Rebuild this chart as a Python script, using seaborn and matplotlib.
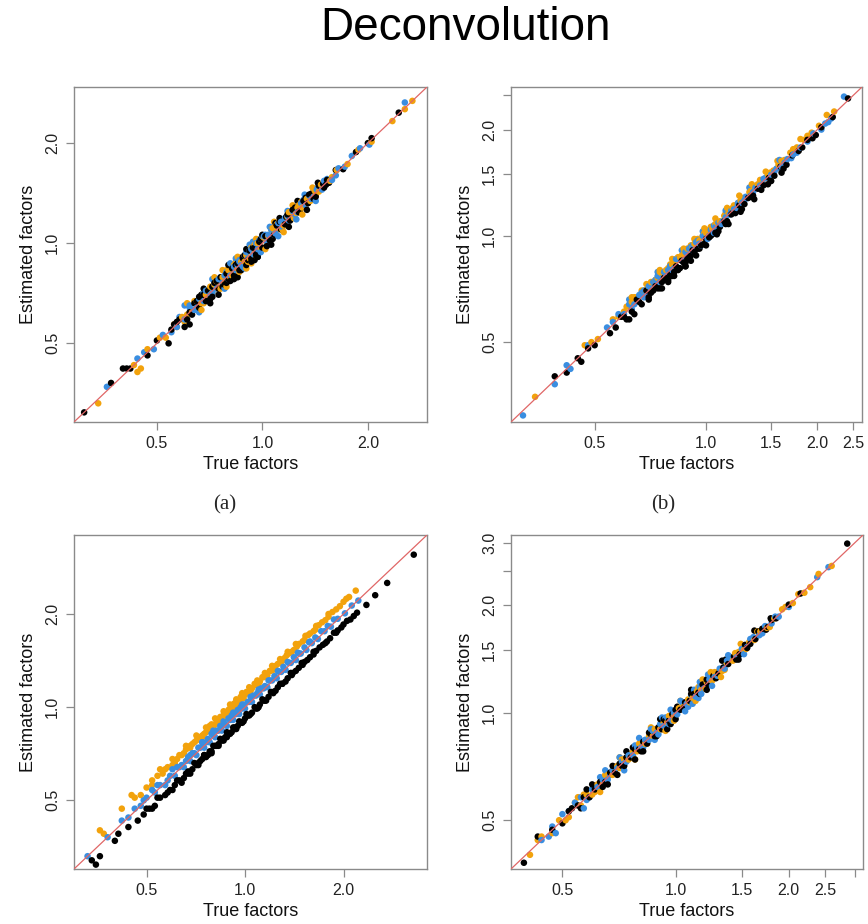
import matplotlib
matplotlib.use("Agg")
import matplotlib.pyplot as plt
from matplotlib.ticker import FixedLocator, FixedFormatter, NullLocator
import seaborn as sns
import pandas as pd

# ---------------- data ----------------
methods = ["orange", "blue", "black"]
colors = {"orange": "#F2A20C", "blue": "#3A8EE0", "black": "#000000"}

# Panel (a)
a_black_x = [0.31, 0.37, 0.40, 0.41, 0.42, 0.47, 0.50, 0.54, 0.56, 0.57, 0.60, 0.62, 0.63, 0.65, 0.66, 0.68, 0.69, 0.70, 0.72, 0.73, 0.75, 0.76, 0.78, 0.79, 0.80, 0.82, 0.83, 0.85, 0.86, 0.88, 0.90, 0.92, 0.93, 0.95, 0.96, 0.98, 1.00, 1.02, 1.05, 1.08, 1.10, 1.13, 1.17, 1.20, 1.24, 1.28, 1.31, 1.35, 1.38, 1.42, 1.46, 1.50, 1.55, 1.62, 1.70, 1.85, 2.00, 2.05, 2.45]
a_black_y = [0.31, 0.38, 0.42, 0.42, 0.42, 0.46, 0.51, 0.50, 0.57, 0.58, 0.56, 0.62, 0.61, 0.67, 0.64, 0.70, 0.67, 0.72, 0.69, 0.76, 0.73, 0.79, 0.75, 0.81, 0.78, 0.84, 0.80, 0.87, 0.83, 0.90, 0.86, 0.95, 0.90, 0.97, 0.93, 1.01, 0.97, 1.05, 1.02, 1.06, 1.13, 1.10, 1.20, 1.17, 1.28, 1.25, 1.34, 1.32, 1.41, 1.38, 1.50, 1.47, 1.52, 1.66, 1.67, 1.88, 2.00, 2.07, 2.47]
a_black_x2 = [0.58, 0.61, 0.64, 0.67, 0.71, 0.74, 0.77, 0.81, 0.84, 0.87, 0.89, 0.91, 0.94, 0.97, 0.99, 1.03, 1.07, 1.12, 1.16, 1.22, 1.27, 1.33, 1.40, 1.45, 1.52, 0.93, 0.96, 0.88, 0.79, 0.72, 0.66, 0.55, 1.49, 1.53, 1.36, 1.18]
a_black_y2 = [0.59, 0.59, 0.66, 0.70, 0.68, 0.77, 0.74, 0.77, 0.86, 0.83, 0.92, 0.89, 0.97, 0.91, 1.03, 0.98, 1.03, 1.16, 1.14, 1.26, 1.24, 1.37, 1.36, 1.49, 1.50, 0.88, 0.92, 0.91, 0.76, 0.74, 0.69, 0.55, 1.51, 1.55, 1.40, 1.22]
a_black_x3 = [0.62, 0.68, 0.75, 0.80, 0.85, 0.90, 0.95, 1.00, 1.06, 1.12, 1.19, 1.26, 1.34, 1.44, 0.71, 0.83, 0.97, 1.09]
a_black_y3 = [0.57, 0.73, 0.70, 0.86, 0.79, 0.96, 0.89, 1.06, 0.99, 1.19, 1.12, 1.34, 1.26, 1.52, 0.66, 0.78, 0.91, 1.15]
a_blue_x = [0.36, 0.44, 0.46, 0.49, 0.52, 0.55, 0.58, 0.60, 0.62, 0.64, 0.66, 0.68, 0.70, 0.71, 0.73, 0.74, 0.76, 0.77, 0.79, 0.81, 0.82, 0.84, 0.86, 0.87, 0.89, 0.91, 0.93, 0.94, 0.96, 0.97, 0.99, 1.01, 1.03, 1.06, 1.08, 1.11, 1.14, 1.16, 1.19, 1.22, 1.26, 1.29, 1.33, 1.36, 1.40, 1.44, 1.48, 1.53, 1.58, 1.65, 1.72, 1.80, 1.90, 2.02, 2.55]
a_blue_y = [0.37, 0.45, 0.47, 0.48, 0.53, 0.54, 0.60, 0.59, 0.64, 0.63, 0.68, 0.67, 0.72, 0.70, 0.76, 0.73, 0.79, 0.76, 0.82, 0.80, 0.85, 0.83, 0.89, 0.86, 0.92, 0.90, 0.96, 0.93, 1.00, 0.96, 1.03, 1.05, 1.01, 1.10, 1.06, 1.15, 1.12, 1.19, 1.17, 1.25, 1.24, 1.32, 1.30, 1.39, 1.38, 1.47, 1.45, 1.56, 1.55, 1.68, 1.70, 1.83, 1.93, 1.98, 2.65]
a_blue_x2 = [0.57, 0.62, 0.65, 0.69, 0.72, 0.75, 0.78, 0.80, 0.83, 0.85, 0.88, 0.90, 0.92, 0.95, 0.98, 1.00, 1.04, 1.09, 1.13, 1.18, 1.24, 1.31, 1.38, 1.43, 1.50, 1.62, 0.96, 0.86, 0.76, 0.68, 1.02, 0.94]
a_blue_y2 = [0.56, 0.65, 0.64, 0.72, 0.71, 0.78, 0.80, 0.78, 0.85, 0.86, 0.85, 0.94, 0.95, 0.92, 1.02, 1.05, 1.06, 1.07, 1.16, 1.21, 1.22, 1.35, 1.36, 1.45, 1.54, 1.60, 1.00, 0.88, 0.78, 0.71, 1.06, 0.97]
a_blue_x3 = [0.60, 0.66, 0.72, 0.78, 0.84, 0.89, 0.94, 0.99, 1.05, 1.11, 1.18, 1.25, 1.32, 1.42, 0.81, 0.92]
a_blue_y3 = [0.65, 0.62, 0.78, 0.73, 0.90, 0.84, 1.01, 0.94, 1.12, 1.05, 1.25, 1.18, 1.40, 1.34, 0.87, 0.99]
a_orange_x = [0.34, 0.43, 0.44, 0.45, 0.47, 0.51, 0.53, 0.57, 0.59, 0.61, 0.63, 0.65, 0.67, 0.69, 0.70, 0.72, 0.74, 0.75, 0.77, 0.78, 0.80, 0.81, 0.83, 0.85, 0.87, 0.89, 0.90, 0.92, 0.94, 0.95, 0.97, 0.99, 1.01, 1.04, 1.07, 1.09, 1.12, 1.15, 1.18, 1.21, 1.25, 1.27, 1.30, 1.34, 1.37, 1.41, 1.45, 1.49, 1.56, 1.63, 1.75, 1.88, 2.05, 2.35, 2.55, 2.68]
a_orange_y = [0.33, 0.43, 0.41, 0.42, 0.48, 0.52, 0.52, 0.56, 0.60, 0.61, 0.62, 0.67, 0.66, 0.70, 0.72, 0.71, 0.77, 0.73, 0.79, 0.76, 0.83, 0.79, 0.86, 0.84, 0.88, 0.88, 0.92, 0.90, 0.97, 0.93, 1.00, 0.96, 1.04, 1.05, 1.11, 1.08, 1.17, 1.13, 1.20, 1.24, 1.23, 1.30, 1.28, 1.36, 1.34, 1.44, 1.43, 1.52, 1.54, 1.66, 1.73, 1.91, 2.02, 2.33, 2.53, 2.68]
a_orange_x2 = [0.56, 0.60, 0.64, 0.68, 0.71, 0.73, 0.76, 0.79, 0.82, 0.84, 0.86, 0.88, 0.91, 0.93, 0.96, 0.98, 1.03, 1.06, 1.10, 1.14, 1.19, 1.23, 1.29, 1.35, 1.42, 1.47, 1.58, 0.95, 0.89, 0.74, 1.26]
a_orange_y2 = [0.57, 0.58, 0.67, 0.66, 0.74, 0.75, 0.73, 0.83, 0.80, 0.88, 0.82, 0.91, 0.88, 0.97, 0.92, 1.01, 1.00, 1.10, 1.14, 1.10, 1.24, 1.19, 1.33, 1.32, 1.40, 1.50, 1.58, 0.99, 0.92, 0.77, 1.28]
a_orange_x3 = [0.61, 0.67, 0.73, 0.79, 0.85, 0.90, 0.96, 1.02, 1.08, 1.15, 1.22, 1.30, 1.39, 0.77, 0.93]
a_orange_y3 = [0.66, 0.63, 0.79, 0.74, 0.91, 0.84, 1.03, 0.96, 1.16, 1.08, 1.30, 1.22, 1.47, 0.83, 0.87]

# Panel (b)
b_blue_x = [0.32, 0.39, 0.42, 0.43, 0.48, 0.54, 0.56, 0.60, 0.62, 0.64, 0.66, 0.68, 0.70, 0.71, 0.73, 0.75, 0.77, 0.78, 0.80, 0.82, 0.84, 0.86, 0.88, 0.89, 0.91, 0.93, 0.95, 0.97, 0.99, 1.01, 1.03, 1.05, 1.08, 1.10, 1.13, 1.16, 1.19, 1.22, 1.25, 1.28, 1.32, 1.36, 1.40, 1.45, 1.50, 1.55, 1.60, 1.66, 1.72, 1.80, 1.88, 1.95, 2.10, 2.18, 2.36]
b_blue_y = [0.31, 0.38, 0.43, 0.42, 0.49, 0.55, 0.57, 0.60, 0.64, 0.64, 0.68, 0.67, 0.72, 0.70, 0.75, 0.74, 0.79, 0.77, 0.82, 0.81, 0.86, 0.85, 0.90, 0.87, 0.93, 0.91, 0.97, 0.94, 1.00, 0.98, 1.04, 1.02, 1.09, 1.08, 1.13, 1.15, 1.19, 1.23, 1.24, 1.29, 1.30, 1.37, 1.39, 1.46, 1.49, 1.55, 1.57, 1.65, 1.70, 1.78, 1.85, 1.95, 2.08, 2.15, 2.48]
b_blue_x2 = [0.58, 0.63, 0.67, 0.69, 0.72, 0.76, 0.79, 0.81, 0.83, 0.87, 0.90, 0.92, 0.96, 0.98, 1.02, 1.06, 1.11, 1.17, 1.21, 1.27, 1.34, 1.42, 1.53, 1.63, 1.76, 2.05, 2.14, 0.74, 0.94]
b_blue_y2 = [0.60, 0.62, 0.69, 0.68, 0.74, 0.76, 0.80, 0.80, 0.86, 0.85, 0.92, 0.91, 0.95, 1.00, 1.00, 1.06, 1.10, 1.18, 1.20, 1.26, 1.33, 1.40, 1.52, 1.61, 1.72, 2.00, 2.10, 0.77, 0.96]
b_blue_x3 = [0.62, 0.68, 0.74, 0.80, 0.86, 0.92, 0.98, 1.05, 1.13, 1.22, 1.31, 1.43, 1.58, 1.70]
b_blue_y3 = [0.66, 0.70, 0.79, 0.82, 0.91, 0.94, 1.03, 1.07, 1.18, 1.24, 1.37, 1.45, 1.64, 1.66]
b_orange_x = [0.345, 0.47, 0.49, 0.51, 0.56, 0.58, 0.61, 0.63, 0.65, 0.67, 0.69, 0.70, 0.72, 0.74, 0.76, 0.77, 0.79, 0.81, 0.83, 0.85, 0.87, 0.88, 0.90, 0.92, 0.94, 0.96, 0.98, 1.00, 1.02, 1.04, 1.07, 1.09, 1.12, 1.15, 1.18, 1.21, 1.24, 1.27, 1.31, 1.34, 1.38, 1.42, 1.47, 1.52, 1.57, 1.63, 1.69, 1.76, 1.84, 1.93, 2.02, 2.12]
b_orange_y = [0.35, 0.49, 0.50, 0.51, 0.58, 0.59, 0.63, 0.65, 0.67, 0.70, 0.70, 0.72, 0.74, 0.76, 0.78, 0.78, 0.81, 0.83, 0.85, 0.87, 0.89, 0.89, 0.92, 0.93, 0.96, 0.97, 1.00, 1.02, 1.04, 1.05, 1.09, 1.10, 1.14, 1.16, 1.20, 1.22, 1.26, 1.28, 1.33, 1.35, 1.40, 1.43, 1.49, 1.53, 1.59, 1.64, 1.72, 1.78, 1.87, 1.96, 2.05, 2.20]
b_orange_x2 = [0.60, 0.64, 0.68, 0.71, 0.73, 0.75, 0.78, 0.80, 0.82, 0.84, 0.86, 0.89, 0.91, 0.93, 0.95, 0.99, 1.03, 1.06, 1.13, 1.19, 1.25, 1.32, 1.40, 1.49, 1.60, 1.72, 1.88, 2.22]
b_orange_y2 = [0.61, 0.67, 0.70, 0.74, 0.75, 0.79, 0.80, 0.83, 0.84, 0.87, 0.88, 0.92, 0.94, 0.95, 0.98, 1.02, 1.06, 1.08, 1.16, 1.22, 1.28, 1.34, 1.44, 1.51, 1.63, 1.76, 1.92, 2.25]
b_orange_x3 = [0.63, 0.69, 0.75, 0.81, 0.87, 0.93, 0.99, 1.06, 1.14, 1.23, 1.33, 1.45, 1.56, 1.80]
b_orange_y3 = [0.67, 0.73, 0.80, 0.86, 0.92, 0.98, 1.05, 1.12, 1.20, 1.30, 1.40, 1.52, 1.63, 1.88]
b_black_x = [0.39, 0.42, 0.45, 0.46, 0.48, 0.50, 0.55, 0.57, 0.59, 0.61, 0.63, 0.65, 0.67, 0.69, 0.71, 0.73, 0.74, 0.76, 0.78, 0.80, 0.81, 0.83, 0.85, 0.87, 0.89, 0.91, 0.93, 0.95, 0.97, 1.00, 1.02, 1.04, 1.06, 1.09, 1.12, 1.14, 1.17, 1.20, 1.23, 1.27, 1.30, 1.34, 1.38, 1.43, 1.48, 1.53, 1.59, 1.65, 1.71, 1.78, 1.88, 1.98, 2.05, 2.20, 2.42]
b_black_y = [0.40, 0.41, 0.45, 0.44, 0.48, 0.49, 0.53, 0.55, 0.59, 0.58, 0.61, 0.66, 0.64, 0.70, 0.69, 0.72, 0.71, 0.74, 0.76, 0.78, 0.77, 0.82, 0.81, 0.84, 0.86, 0.88, 0.90, 0.92, 0.94, 0.98, 0.99, 1.01, 1.02, 1.06, 1.10, 1.10, 1.15, 1.16, 1.22, 1.23, 1.28, 1.30, 1.36, 1.39, 1.46, 1.48, 1.57, 1.59, 1.69, 1.74, 1.87, 1.93, 2.03, 2.17, 2.45]
b_black_x2 = [0.60, 0.62, 0.66, 0.70, 0.72, 0.75, 0.77, 0.79, 0.82, 0.84, 0.86, 0.88, 0.90, 0.92, 0.96, 0.99, 1.03, 1.08, 1.13, 1.18, 1.25, 1.32, 1.41, 1.50, 1.62, 1.82, 1.94, 0.88]
b_black_y2 = [0.59, 0.58, 0.65, 0.67, 0.70, 0.71, 0.76, 0.75, 0.79, 0.80, 0.85, 0.84, 0.87, 0.91, 0.92, 0.95, 1.00, 1.03, 1.08, 1.16, 1.19, 1.29, 1.35, 1.43, 1.55, 1.78, 1.89, 0.82]
b_black_x3 = [0.64, 0.70, 0.76, 0.82, 0.88, 0.94, 1.00, 1.07, 1.15, 1.24, 1.35, 1.47, 1.60, 0.79, 0.91]
b_black_y3 = [0.60, 0.66, 0.71, 0.77, 0.82, 0.88, 0.94, 1.01, 1.08, 1.17, 1.27, 1.40, 1.51, 0.74, 0.85]

# Panel (c)
c_orange_x = [0.36, 0.37, 0.42, 0.46, 0.48, 0.50, 0.52, 0.54, 0.56, 0.58, 0.60, 0.62, 0.64, 0.65, 0.67, 0.68, 0.70, 0.71, 0.73, 0.74, 0.76, 0.77, 0.79, 0.80, 0.82, 0.83, 0.85, 0.86, 0.88, 0.90, 0.92, 0.94, 0.96, 0.98, 1.00, 1.02, 1.05, 1.08, 1.11, 1.14, 1.17, 1.20, 1.24, 1.28, 1.32, 1.36, 1.41, 1.46, 1.52, 1.58, 1.64, 1.72, 1.80, 1.90, 2.00, 2.08, 2.18]
c_orange_y = [0.40, 0.39, 0.47, 0.51, 0.52, 0.55, 0.56, 0.60, 0.61, 0.64, 0.65, 0.68, 0.70, 0.71, 0.74, 0.74, 0.77, 0.78, 0.80, 0.80, 0.83, 0.84, 0.87, 0.87, 0.90, 0.90, 0.93, 0.94, 0.96, 0.99, 1.00, 1.03, 1.05, 1.07, 1.10, 1.11, 1.15, 1.18, 1.21, 1.25, 1.27, 1.31, 1.36, 1.39, 1.44, 1.49, 1.53, 1.60, 1.65, 1.73, 1.78, 1.88, 1.96, 2.07, 2.19, 2.27, 2.38]
c_orange_x2 = [0.52, 0.57, 0.61, 0.63, 0.66, 0.69, 0.72, 0.75, 0.78, 0.81, 0.84, 0.87, 0.89, 0.91, 0.93, 0.95, 0.97, 0.99, 1.01, 1.04, 1.07, 1.10, 1.13, 1.16, 1.19, 1.22, 1.26, 1.30, 1.34, 1.39, 1.44, 1.50, 1.56, 1.62, 1.68, 1.76, 1.85, 1.95, 2.04, 0.68, 0.79, 0.92]
c_orange_y2 = [0.58, 0.63, 0.66, 0.70, 0.73, 0.76, 0.80, 0.82, 0.87, 0.88, 0.93, 0.94, 0.98, 0.98, 1.03, 1.02, 1.08, 1.07, 1.12, 1.13, 1.19, 1.19, 1.25, 1.26, 1.31, 1.32, 1.38, 1.41, 1.47, 1.51, 1.57, 1.63, 1.71, 1.76, 1.84, 1.91, 2.03, 2.12, 2.24, 0.75, 0.88, 1.02]
c_orange_x3 = [0.45, 0.55, 0.60, 0.66, 0.71, 0.76, 0.81, 0.86, 0.90, 0.94, 0.98, 1.03, 1.09, 1.15, 1.21, 1.28, 1.35, 1.43, 1.53, 1.65, 1.80, 0.74, 0.84]
c_orange_y3 = [0.52, 0.63, 0.68, 0.75, 0.81, 0.86, 0.92, 0.97, 1.02, 1.06, 1.11, 1.16, 1.22, 1.29, 1.36, 1.43, 1.51, 1.60, 1.70, 1.83, 2.00, 0.81, 0.91]
c_blue_x = [0.33, 0.38, 0.42, 0.44, 0.46, 0.48, 0.50, 0.53, 0.55, 0.57, 0.59, 0.61, 0.63, 0.65, 0.66, 0.68, 0.70, 0.71, 0.73, 0.75, 0.76, 0.78, 0.80, 0.81, 0.83, 0.85, 0.87, 0.88, 0.90, 0.92, 0.94, 0.96, 0.98, 1.00, 1.03, 1.05, 1.08, 1.11, 1.14, 1.17, 1.21, 1.25, 1.29, 1.33, 1.38, 1.43, 1.48, 1.54, 1.60, 1.67, 1.75, 1.83, 1.92, 2.02, 2.12, 2.22]
c_blue_y = [0.33, 0.38, 0.43, 0.44, 0.47, 0.48, 0.51, 0.53, 0.56, 0.56, 0.60, 0.60, 0.64, 0.64, 0.67, 0.67, 0.71, 0.70, 0.74, 0.74, 0.77, 0.77, 0.81, 0.80, 0.84, 0.84, 0.88, 0.87, 0.91, 0.91, 0.95, 0.95, 0.99, 0.99, 1.04, 1.04, 1.09, 1.10, 1.15, 1.16, 1.22, 1.24, 1.30, 1.32, 1.39, 1.42, 1.49, 1.53, 1.61, 1.66, 1.76, 1.82, 1.93, 2.01, 2.13, 2.21]
c_blue_x2 = [0.49, 0.54, 0.58, 0.62, 0.64, 0.67, 0.69, 0.72, 0.74, 0.77, 0.79, 0.82, 0.84, 0.86, 0.89, 0.91, 0.93, 0.95, 0.97, 0.99, 1.02, 1.06, 1.09, 1.12, 1.15, 1.19, 1.23, 1.27, 1.31, 1.36, 1.41, 1.46, 1.52, 1.58, 1.64, 1.71, 1.79, 1.87]
c_blue_y2 = [0.50, 0.56, 0.58, 0.64, 0.65, 0.69, 0.71, 0.74, 0.77, 0.79, 0.82, 0.84, 0.87, 0.88, 0.92, 0.94, 0.95, 0.98, 1.00, 1.02, 1.04, 1.09, 1.11, 1.15, 1.17, 1.22, 1.26, 1.30, 1.35, 1.39, 1.45, 1.49, 1.56, 1.63, 1.68, 1.76, 1.83, 1.92]
c_blue_x3 = [0.52, 0.60, 0.68, 0.74, 0.80, 0.86, 0.92, 0.98, 1.04, 1.10, 1.18, 1.26, 1.35, 1.45, 1.57, 0.77, 0.90]
c_blue_y3 = [0.54, 0.63, 0.70, 0.77, 0.84, 0.90, 0.96, 1.02, 1.08, 1.14, 1.22, 1.31, 1.40, 1.50, 1.62, 0.78, 0.91]
c_black_x = [0.34, 0.35, 0.36, 0.40, 0.41, 0.44, 0.47, 0.49, 0.51, 0.53, 0.55, 0.57, 0.59, 0.61, 0.63, 0.65, 0.67, 0.69, 0.71, 0.72, 0.74, 0.76, 0.78, 0.79, 0.81, 0.83, 0.85, 0.87, 0.89, 0.91, 0.93, 0.95, 0.97, 1.00, 1.02, 1.05, 1.08, 1.11, 1.14, 1.18, 1.22, 1.26, 1.30, 1.35, 1.40, 1.46, 1.52, 1.58, 1.65, 1.73, 1.82, 1.92, 2.00, 2.10, 2.20, 2.35, 2.50, 2.72, 3.28]
c_black_y = [0.32, 0.31, 0.33, 0.37, 0.39, 0.41, 0.43, 0.45, 0.47, 0.48, 0.51, 0.52, 0.54, 0.56, 0.58, 0.59, 0.62, 0.63, 0.65, 0.66, 0.68, 0.69, 0.72, 0.72, 0.75, 0.76, 0.78, 0.80, 0.82, 0.83, 0.86, 0.87, 0.89, 0.92, 0.94, 0.96, 0.99, 1.02, 1.05, 1.08, 1.12, 1.16, 1.19, 1.24, 1.29, 1.34, 1.40, 1.45, 1.52, 1.59, 1.67, 1.77, 1.85, 1.92, 2.02, 2.14, 2.30, 2.52, 3.11]
c_black_x2 = [0.50, 0.54, 0.58, 0.62, 0.66, 0.68, 0.70, 0.73, 0.75, 0.77, 0.80, 0.82, 0.84, 0.86, 0.88, 0.90, 0.92, 0.94, 0.96, 0.99, 1.01, 1.04, 1.07, 1.10, 1.13, 1.16, 1.20, 1.24, 1.28, 1.33, 1.38, 1.43, 1.49, 1.55, 1.62, 1.69, 1.78, 1.87, 1.97, 2.05, 2.15, 0.64, 0.79]
c_black_y2 = [0.47, 0.51, 0.53, 0.58, 0.61, 0.61, 0.66, 0.67, 0.70, 0.70, 0.75, 0.75, 0.79, 0.78, 0.83, 0.82, 0.86, 0.85, 0.90, 0.90, 0.95, 0.95, 1.00, 1.00, 1.06, 1.05, 1.12, 1.13, 1.19, 1.21, 1.29, 1.31, 1.39, 1.42, 1.51, 1.56, 1.63, 1.74, 1.81, 1.90, 1.97, 0.57, 0.71]
c_black_x3 = [0.52, 0.60, 0.67, 0.72, 0.78, 0.83, 0.88, 0.93, 0.98, 1.03, 1.09, 1.15, 1.22, 1.30, 1.39, 1.50, 1.62, 1.76, 1.90, 0.75, 0.86]
c_black_y3 = [0.47, 0.54, 0.61, 0.65, 0.71, 0.75, 0.80, 0.85, 0.89, 0.94, 0.99, 1.05, 1.11, 1.19, 1.27, 1.37, 1.48, 1.61, 1.74, 0.70, 0.79]

# Panel (d)
d_black_x = [0.395, 0.43, 0.47, 0.50, 0.53, 0.55, 0.57, 0.59, 0.61, 0.63, 0.65, 0.67, 0.69, 0.71, 0.72, 0.74, 0.76, 0.78, 0.80, 0.82, 0.84, 0.86, 0.88, 0.90, 0.92, 0.94, 0.96, 0.98, 1.00, 1.03, 1.06, 1.09, 1.12, 1.15, 1.18, 1.22, 1.26, 1.30, 1.34, 1.38, 1.43, 1.48, 1.53, 1.58, 1.63, 1.70, 1.76, 1.80, 1.85, 2.00, 2.15, 2.86]
d_black_y = [0.38, 0.45, 0.47, 0.49, 0.54, 0.55, 0.58, 0.58, 0.61, 0.64, 0.64, 0.68, 0.68, 0.72, 0.71, 0.75, 0.75, 0.79, 0.79, 0.83, 0.82, 0.87, 0.86, 0.91, 0.90, 0.95, 0.95, 0.99, 1.02, 1.02, 1.07, 1.08, 1.13, 1.14, 1.20, 1.20, 1.27, 1.29, 1.34, 1.37, 1.44, 1.46, 1.55, 1.56, 1.61, 1.72, 1.74, 1.82, 1.84, 2.01, 2.16, 2.98]
d_black_x2 = [0.56, 0.60, 0.64, 0.68, 0.73, 0.77, 0.81, 0.85, 0.89, 0.93, 0.97, 1.01, 1.05, 1.10, 1.16, 1.21, 1.28, 1.36, 1.45, 1.55, 1.66, 1.74, 1.79, 0.70, 0.52]
d_black_y2 = [0.54, 0.63, 0.62, 0.71, 0.71, 0.80, 0.78, 0.88, 0.86, 0.96, 0.93, 1.04, 1.03, 1.13, 1.13, 1.24, 1.25, 1.41, 1.41, 1.52, 1.69, 1.71, 1.84, 0.67, 0.53]
d_black_x3 = [0.58, 0.66, 0.74, 0.82, 0.91, 1.00, 1.10, 1.21, 1.33, 1.47, 1.62, 0.78, 0.95]
d_black_y3 = [0.61, 0.63, 0.78, 0.78, 0.96, 0.96, 1.16, 1.16, 1.40, 1.41, 1.70, 0.74, 0.90]
d_blue_x = [0.44, 0.46, 0.48, 0.50, 0.52, 0.56, 0.58, 0.60, 0.62, 0.64, 0.66, 0.68, 0.70, 0.72, 0.73, 0.75, 0.77, 0.79, 0.81, 0.83, 0.85, 0.87, 0.89, 0.91, 0.93, 0.95, 0.97, 0.99, 1.01, 1.04, 1.07, 1.10, 1.13, 1.16, 1.19, 1.23, 1.27, 1.31, 1.35, 1.40, 1.45, 1.50, 1.55, 1.61, 1.67, 1.73, 1.80, 1.88, 2.00, 2.38, 2.55]
d_blue_y = [0.44, 0.45, 0.46, 0.52, 0.53, 0.58, 0.57, 0.61, 0.62, 0.65, 0.65, 0.69, 0.70, 0.73, 0.72, 0.76, 0.76, 0.80, 0.80, 0.84, 0.84, 0.89, 0.88, 0.93, 0.92, 0.97, 0.95, 1.00, 0.99, 1.07, 1.06, 1.12, 1.11, 1.18, 1.17, 1.24, 1.26, 1.33, 1.33, 1.42, 1.43, 1.51, 1.53, 1.63, 1.65, 1.75, 1.78, 1.86, 1.98, 2.40, 2.56]
d_blue_x2 = [0.47, 0.54, 0.59, 0.63, 0.67, 0.71, 0.74, 0.78, 0.82, 0.86, 0.90, 0.94, 0.98, 1.03, 1.08, 1.12, 1.17, 1.22, 1.29, 1.37, 1.47, 1.58, 1.70, 1.84, 0.96, 1.15]
d_blue_y2 = [0.48, 0.56, 0.58, 0.66, 0.67, 0.75, 0.73, 0.81, 0.80, 0.90, 0.87, 0.97, 0.95, 1.08, 1.04, 1.16, 1.13, 1.28, 1.27, 1.40, 1.44, 1.61, 1.67, 1.86, 0.93, 1.10]
d_blue_x3 = [0.57, 0.65, 0.73, 0.80, 0.88, 0.97, 1.06, 1.16, 1.25, 1.38, 1.52, 0.92, 1.11]
d_blue_y3 = [0.54, 0.69, 0.69, 0.85, 0.84, 1.02, 1.01, 1.22, 1.19, 1.45, 1.46, 0.97, 1.06]
d_orange_x = [0.41, 0.44, 0.47, 0.49, 0.51, 0.54, 0.56, 0.58, 0.60, 0.62, 0.64, 0.66, 0.68, 0.70, 0.71, 0.73, 0.75, 0.77, 0.79, 0.81, 0.83, 0.85, 0.87, 0.89, 0.91, 0.93, 0.95, 0.97, 0.99, 1.02, 1.05, 1.08, 1.11, 1.14, 1.17, 1.21, 1.25, 1.29, 1.33, 1.37, 1.42, 1.47, 1.52, 1.57, 1.62, 1.68, 1.75, 1.83, 1.92, 2.05, 2.12, 2.20, 2.40, 2.60]
d_orange_y = [0.40, 0.45, 0.46, 0.50, 0.50, 0.56, 0.55, 0.59, 0.59, 0.63, 0.63, 0.67, 0.67, 0.71, 0.70, 0.74, 0.74, 0.78, 0.78, 0.82, 0.82, 0.86, 0.86, 0.90, 0.90, 0.94, 0.94, 0.98, 0.98, 1.03, 1.04, 1.09, 1.10, 1.15, 1.16, 1.22, 1.23, 1.30, 1.31, 1.38, 1.40, 1.48, 1.50, 1.58, 1.60, 1.69, 1.73, 1.84, 1.95, 2.03, 2.15, 2.17, 2.45, 2.58]
d_orange_x2 = [0.43, 0.52, 0.57, 0.61, 0.65, 0.69, 0.72, 0.76, 0.80, 0.84, 0.88, 0.92, 0.96, 1.00, 1.04, 1.09, 1.15, 1.20, 1.27, 1.35, 1.44, 1.54, 1.65, 1.78, 1.96, 2.28]
d_orange_y2 = [0.44, 0.51, 0.59, 0.60, 0.67, 0.68, 0.74, 0.75, 0.82, 0.82, 0.90, 0.90, 0.98, 0.98, 1.06, 1.07, 1.18, 1.17, 1.30, 1.32, 1.47, 1.51, 1.69, 1.74, 1.98, 2.25]
d_orange_x3 = [0.55, 0.63, 0.71, 0.78, 0.86, 0.94, 1.03, 1.13, 1.24, 1.32, 1.49, 0.99, 1.18]
d_orange_y3 = [0.58, 0.60, 0.75, 0.74, 0.91, 0.89, 1.08, 1.08, 1.30, 1.26, 1.56, 0.95, 1.24]

# Axis ranges and ticks per panel
lims = {"a": (0.29, 2.95), "b": (0.297, 2.64), "c": (0.30, 3.6), "d": (0.365, 3.15)}
xticks = {"a": [0.5, 1.0, 2.0], "b": [0.5, 1.0, 1.5, 2.0, 2.5],
          "c": [0.5, 1.0, 2.0], "d": [0.5, 1.0, 1.5, 2.0, 2.5, 3.0]}
xticklabels = {"a": ["0.5", "1.0", "2.0"], "b": ["0.5", "1.0", "1.5", "2.0", "2.5"],
               "c": ["0.5", "1.0", "2.0"], "d": ["0.5", "1.0", "1.5", "2.0", "2.5", ""]}
yticks = {"a": [0.5, 1.0, 2.0], "b": [0.5, 1.0, 1.5, 2.0, 2.5],
          "c": [0.5, 1.0, 2.0], "d": [0.5, 1.0, 1.5, 2.0, 2.5, 3.0]}
yticklabels = {"a": ["0.5", "1.0", "2.0"], "b": ["0.5", "1.0", "1.5", "2.0", ""],
               "c": ["0.5", "1.0", "2.0"], "d": ["0.5", "1.0", "1.5", "2.0", "", "3.0"]}

series = {
    "a": {"orange": [(a_orange_x, a_orange_y), (a_orange_x2, a_orange_y2), (a_orange_x3, a_orange_y3)],
          "blue": [(a_blue_x, a_blue_y), (a_blue_x2, a_blue_y2), (a_blue_x3, a_blue_y3)],
          "black": [(a_black_x, a_black_y), (a_black_x2, a_black_y2), (a_black_x3, a_black_y3)]},
    "b": {"orange": [(b_orange_x, b_orange_y), (b_orange_x2, b_orange_y2), (b_orange_x3, b_orange_y3)],
          "blue": [(b_blue_x, b_blue_y), (b_blue_x2, b_blue_y2), (b_blue_x3, b_blue_y3)],
          "black": [(b_black_x, b_black_y), (b_black_x2, b_black_y2), (b_black_x3, b_black_y3)]},
    "c": {"orange": [(c_orange_x, c_orange_y), (c_orange_x2, c_orange_y2), (c_orange_x3, c_orange_y3)],
          "blue": [(c_blue_x, c_blue_y), (c_blue_x2, c_blue_y2), (c_blue_x3, c_blue_y3)],
          "black": [(c_black_x, c_black_y), (c_black_x2, c_black_y2), (c_black_x3, c_black_y3)]},
    "d": {"orange": [(d_orange_x, d_orange_y), (d_orange_x2, d_orange_y2), (d_orange_x3, d_orange_y3)],
          "blue": [(d_blue_x, d_blue_y), (d_blue_x2, d_blue_y2), (d_blue_x3, d_blue_y3)],
          "black": [(d_black_x, d_black_y), (d_black_x2, d_black_y2), (d_black_x3, d_black_y3)]},
}

# ---------------- drawing ----------------
sns.set_theme(style="white")
plt.rcParams["font.family"] = ["Liberation Sans", "DejaVu Sans"]

W, H = 868, 924
fig = plt.figure(figsize=(W / 100, H / 100), dpi=100)

boxes = {  # left, top, right, bottom in pixels
    "a": (74, 87, 427, 422),
    "b": (511, 87, 862, 422),
    "c": (74, 535, 427, 869),
    "d": (511, 535, 863, 869),
}
axcol = "#8a8a8a"

for key, (l, t, r, b) in boxes.items():
    ax = fig.add_axes([l / W, 1 - b / H, (r - l) / W, (b - t) / H])
    rows = []
    for m in methods:
        for xs, ys in series[key][m]:
            for xv, yv in zip(xs, ys):
                rows.append({"true": xv, "est": yv, "method": m})
    # draw in order of true factor so the three colours interleave
    df = pd.DataFrame(rows).sort_values("true", kind="stable").reset_index(drop=True)
    ax.set_xscale("log")
    ax.set_yscale("log")
    sns.scatterplot(data=df, x="true", y="est", hue="method", palette=colors,
                    hue_order=methods, s=22, linewidth=0, alpha=1.0,
                    legend=False, ax=ax, zorder=2)
    lo, hi = lims[key]
    ax.set_xlim(lo, hi)
    ax.set_ylim(lo, hi)
    ax.axline((1.0, 1.0), (2.0, 2.0), color="#E06666", lw=0.9, zorder=3)

    ax.xaxis.set_major_locator(FixedLocator(xticks[key]))
    ax.xaxis.set_major_formatter(FixedFormatter(xticklabels[key]))
    ax.yaxis.set_major_locator(FixedLocator(yticks[key]))
    ax.yaxis.set_major_formatter(FixedFormatter(yticklabels[key]))
    ax.xaxis.set_minor_locator(NullLocator())
    ax.yaxis.set_minor_locator(NullLocator())
    ax.tick_params(axis="both", which="major", direction="out", length=6,
                   width=0.9, color=axcol, labelsize=11.5, labelcolor="#222222",
                   bottom=True, left=True, pad=4)
    for lab in ax.get_yticklabels():
        lab.set_rotation(90)
        lab.set_va("center")
    for sp in ax.spines.values():
        sp.set_color(axcol)
        sp.set_linewidth(1.0)
    ax.set_xlabel("True factors", fontsize=13, color="#111111", labelpad=4)
    ax.set_ylabel("Estimated factors", fontsize=13, color="#111111", labelpad=6)
    ax.grid(False)

fig.text(465 / W, 1 - 28 / H, "Deconvolution", fontsize=33, ha="center", va="center", color="black")
fig.text(225 / W, 1 - 505 / H, "(a)", fontsize=15, ha="center", va="center",
         family=["Liberation Serif", "DejaVu Serif"])
fig.text(663 / W, 1 - 505 / H, "(b)", fontsize=15, ha="center", va="center",
         family=["Liberation Serif", "DejaVu Serif"])

fig.savefig("out.png", dpi=100, facecolor="white")
